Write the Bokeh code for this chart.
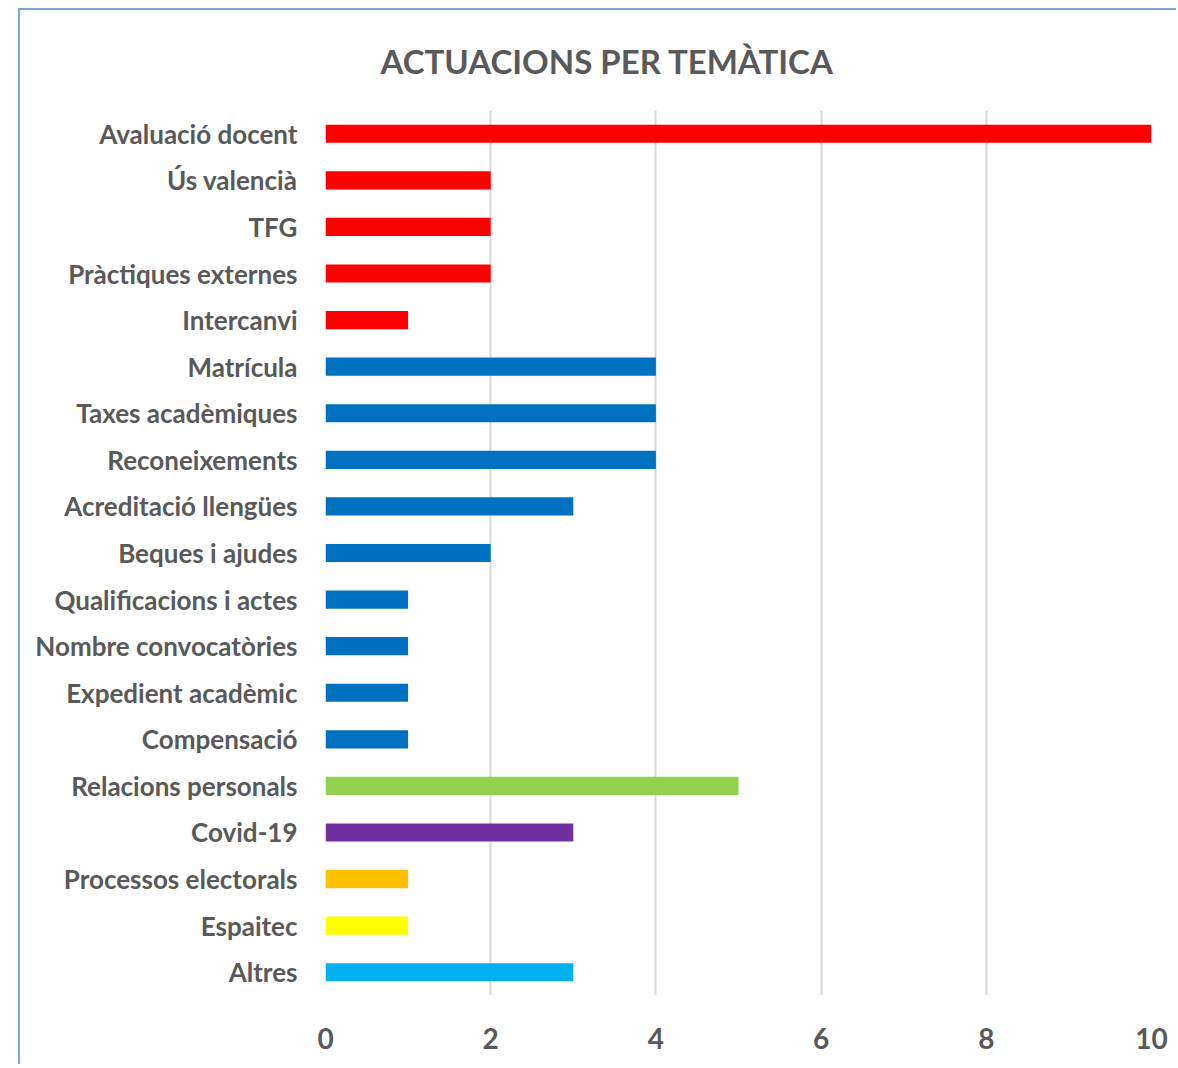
from bokeh.plotting import figure
from bokeh.models import FactorRange, Range1d, FixedTicker, Title
from bokeh.embed import file_html
from bokeh.resources import INLINE

categories = ["Avaluació docent", "Ús valencià", "TFG", "Pràctiques externes", "Intercanvi",
              "Matrícula", "Taxes acadèmiques", "Reconeixements", "Acreditació llengües",
              "Beques i ajudes", "Qualificacions i actes", "Nombre convocatòries",
              "Expedient acadèmic", "Compensació", "Relacions personals", "Covid-19",
              "Processos electorals", "Espaitec", "Altres"]
values = [10, 2, 2, 2, 1, 4, 4, 4, 3, 2, 1, 1, 1, 1, 5, 3, 1, 1, 3]
colors = ["#FF0000"] * 5 + ["#0070C0"] * 9 + ["#92D050", "#7030A0", "#FFC000", "#FFFF00", "#00B0F0"]
x_ticks = [0, 2, 4, 6, 8, 10]
title_text = "ACTUACIONS PER TEMÀTICA"

FONT = "Lato"
TXT = "#595959"

p = figure(width=1158, height=1056, output_backend="svg", toolbar_location=None,
           y_range=FactorRange(factors=list(reversed(categories)), range_padding=0),
           x_range=Range1d(0, 10),
           min_border_left=305, min_border_right=27, min_border_top=100, min_border_bottom=71,
           styles={"margin-left": "18px", "margin-top": "8px",
                   "border-left": "2px solid #7DA7D9",
                   "border-top": "2px solid #7DA7D9"})
p.title = Title(text=title_text, align="left", offset=55, text_font=FONT,
                text_font_size="33px", text_font_style="bold", text_color=TXT,
                vertical_align="top", standoff=56)

p.hbar(y=categories, right=values, left=0, height=0.39, fill_color=colors, line_color=None)

p.outline_line_color = None
p.background_fill_color = "white"
p.border_fill_color = "white"

p.xaxis.ticker = FixedTicker(ticks=x_ticks)
p.xaxis.axis_line_color = None
p.xaxis.major_tick_line_color = None
p.xaxis.minor_tick_line_color = None
p.xaxis.major_label_text_font = FONT
p.xaxis.major_label_text_font_size = "28px"
p.xaxis.major_label_text_font_style = "bold"
p.xaxis.major_label_text_color = TXT
p.xaxis.major_label_standoff = 26

p.yaxis.axis_line_color = None
p.yaxis.major_tick_line_color = None
p.yaxis.major_label_text_font = FONT
p.yaxis.major_label_text_font_size = "26px"
p.yaxis.major_label_text_font_style = "bold"
p.yaxis.major_label_text_color = TXT
p.yaxis.major_label_standoff = 22

p.ygrid.grid_line_color = None
p.xgrid.grid_line_color = "#D9D9D9"
p.xgrid.grid_line_width = 2
p.xgrid.ticker = FixedTicker(ticks=x_ticks)

open("out.html", "w").write(file_html(p, INLINE))
